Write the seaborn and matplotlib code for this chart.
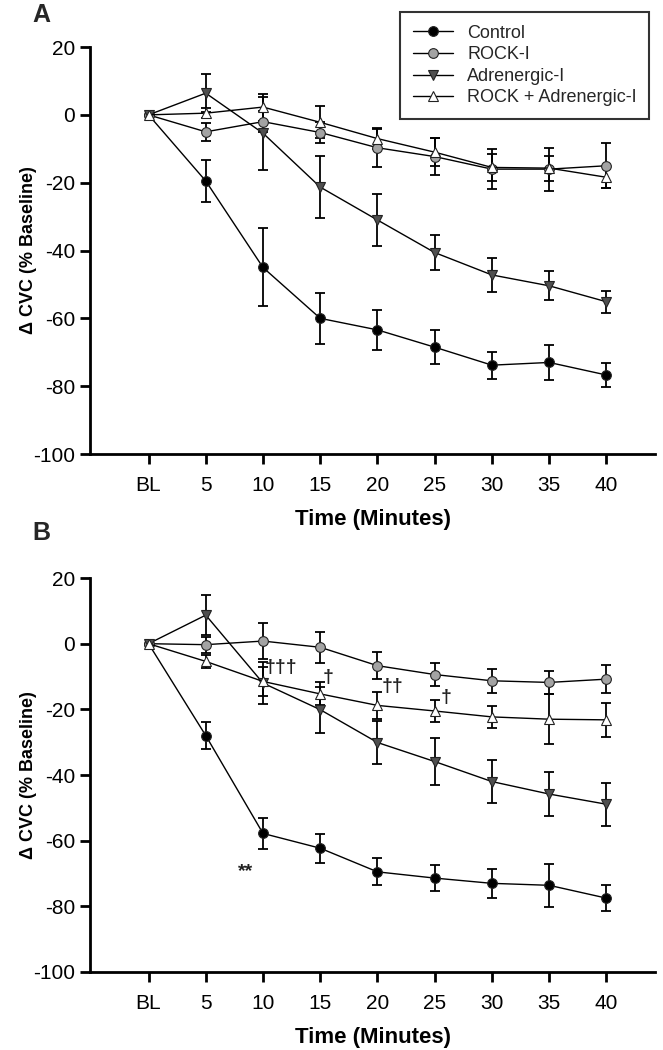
import matplotlib
matplotlib.use('Agg')
import matplotlib.pyplot as plt
import numpy as np
import pandas as pd
import seaborn as sns

sns.set_theme(style='ticks')
plt.rcParams['font.family'] = ['Liberation Sans Narrow', 'Liberation Sans', 'DejaVu Sans']
plt.rcParams['axes.unicode_minus'] = False

time_labels = ['BL', '5', '10', '15', '20', '25', '30', '35', '40']
groups = ['Control', 'ROCK-I', 'Adrenergic-I', 'ROCK + Adrenergic-I']

# panel A: mean and SEM
a_control = [0, -19.5, -45, -60, -63.4, -68.5, -73.8, -73, -76.7]
a_control_err = [0, 6.2, 11.5, 7.5, 6, 5, 4, 5.2, 3.4]
a_rock = [0, -5, -2, -5.2, -9.7, -12.3, -16, -16, -15]
a_rock_err = [0, 2.6, 3, 3, 5.6, 5.4, 6, 6.3, 6.7]
a_adren = [0, 6.4, -5.4, -21.3, -31, -40.6, -47.2, -50.4, -55.1]
a_adren_err = [0, 5.7, 10.8, 9.2, 7.6, 5.2, 4.9, 4.3, 3.3]
a_combo = [0, 0.5, 2.3, -2.2, -7, -11, -15.5, -15.7, -18.4]
a_combo_err = [0, 1.5, 4, 4.7, 3, 4.2, 4, 3.7, 3.3]

# panel B
b_control = [0, -28, -57.8, -62.3, -69.5, -71.4, -73, -73.6, -77.5]
b_control_err = [0, 4.1, 4.8, 4.4, 4.1, 4, 4.5, 6.6, 3.9]
b_rock = [0, -0.3, 0.8, -1.1, -6.7, -9.4, -11.3, -11.8, -10.8]
b_rock_err = [0, 2.4, 5.5, 4.7, 4.1, 3.6, 3.6, 3.6, 4.3]
b_adren = [0, 8.7, -12, -20.1, -30.1, -35.9, -42, -45.8, -48.9]
b_adren_err = [0, 6, 6.3, 7, 6.7, 7.2, 6.6, 6.6, 6.6]
b_combo = [0, -5.4, -11.5, -15.3, -18.8, -20.5, -22.3, -23, -23.2]
b_combo_err = [0, 2, 4.5, 3.5, 4, 3.4, 3.3, 7.6, 5.1]

# significance marks on panel B: (text, x position, y position)
b_marks = [('\u2020\u2020\u2020', 2.32, -7.3), ('\u2020', 3.14, -10.3),
           ('\u2020\u2020', 4.27, -13.1), ('\u2020', 5.19, -16.4),
           ('**', 1.7, -69.5)]

styles = {
    'Control': dict(marker='o', mfc='black'),
    'ROCK-I': dict(marker='o', mfc='#a3a3a3'),
    'Adrenergic-I': dict(marker='v', mfc='#4f4f4f'),
    'ROCK + Adrenergic-I': dict(marker='^', mfc='white'),
}


def draw_panel(ax, means, errs, letter, letter_y):
    x = np.arange(len(time_labels))
    for group, m, e in zip(groups, means, errs):
        st = styles[group]
        ax.errorbar(x, m, yerr=e, fmt='none', ecolor='black', elinewidth=1.3,
                    capsize=3.8, capthick=1.3, zorder=2)
        df = pd.DataFrame({'t': x, 'v': m})
        sns.lineplot(data=df, x='t', y='v', ax=ax, color='black', linewidth=1.0,
                     marker=st['marker'], markersize=7, markerfacecolor=st['mfc'],
                     markeredgecolor='#222222', markeredgewidth=0.8, label=group,
                     zorder=3, legend=False)
    ax.set_xlim(-1.02, 8.85)
    ax.set_ylim(-100, 20)
    ax.set_yticks(np.arange(-100, 21, 20))
    ax.set_xticks(x)
    ax.set_xticklabels(time_labels)
    sns.despine(ax=ax)
    for s in ['left', 'bottom']:
        ax.spines[s].set_linewidth(2)
        ax.spines[s].set_color('black')
    ax.tick_params(axis='both', which='major', width=2, length=7, color='black',
                   labelsize=15, labelcolor='black', direction='out')
    ax.tick_params(axis='x', pad=9)
    ax.tick_params(axis='y', pad=4)
    ax.set_xlabel('Time (Minutes)', fontsize=16, fontweight='bold', labelpad=10,
                  color='black')
    ax.set_ylabel('\u0394 CVC (% Baseline)', fontsize=13, fontweight='bold',
                  family=['Liberation Sans', 'DejaVu Sans'], color='black')
    ax.yaxis.set_label_coords(-0.094, 0.5)
    ax.grid(False)
    fig.text(32 / 663, letter_y, letter, fontsize=18, fontweight='bold',
             family=['Liberation Sans', 'DejaVu Sans'], ha='left', va='center')


fig = plt.figure(figsize=(6.63, 10.5), dpi=100)
ax_a = fig.add_axes([0.136, 0.5676, 0.852, 0.3876])
ax_b = fig.add_axes([0.136, 0.0743, 0.852, 0.3752])

draw_panel(ax_a, [a_control, a_rock, a_adren, a_combo],
           [a_control_err, a_rock_err, a_adren_err, a_combo_err], 'A', 1 - 15 / 1050)
draw_panel(ax_b, [b_control, b_rock, b_adren, b_combo],
           [b_control_err, b_rock_err, b_adren_err, b_combo_err], 'B', 1 - 533 / 1050)

for txt, xp, yp in b_marks:
    ax_b.text(xp, yp, txt, fontsize=14, fontweight='bold', ha='center', va='center',
              color='#222222', family=['Liberation Sans', 'DejaVu Sans'])

handles, labels = ax_a.get_legend_handles_labels()
leg = fig.legend(handles, labels, loc='upper right', bbox_to_anchor=(0.993, 0.997),
                 fontsize=13, frameon=True, fancybox=False, edgecolor='black',
                 handlelength=2.2, borderpad=0.7, labelspacing=0.25)
leg.get_frame().set_linewidth(1.5)

fig.savefig('out.png', dpi=100)
